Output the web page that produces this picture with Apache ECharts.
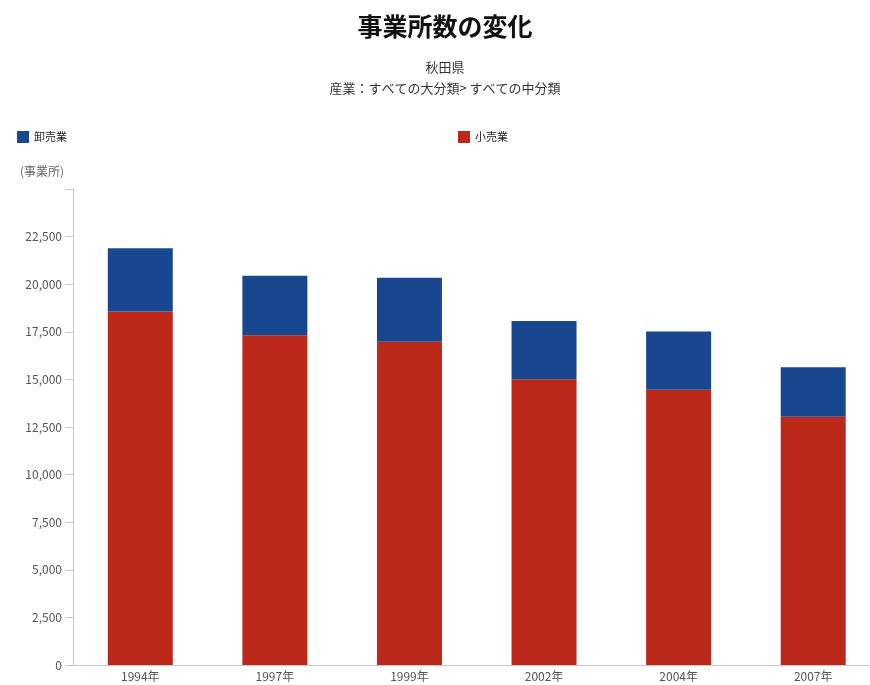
<!DOCTYPE html>
<html>
<head>
<meta charset="utf-8">
<script src="https://cdn.jsdelivr.net/npm/echarts@6/dist/echarts.min.js"></script>
<style>
  html, body { margin: 0; padding: 0; background: #fff; }
  #chart { width: 870px; height: 685px; }
</style>
</head>
<body>
<div id="chart"></div>
<script>
// 秋田県の事業所数（卸売業・小売業）
const years = ['1994年', '1997年', '1999年', '2002年', '2004年', '2007年'];
const retail = [18560, 17320, 16980, 15010, 14460, 13040];   // 小売業
const wholesale = [3330, 3130, 3360, 3060, 3050, 2600];      // 卸売業
const yTicks = { min: 0, max: 25000, step: 2500 };

const FONT = '"Noto Sans CJK JP", "Noto Sans", sans-serif';
const BLUE = '#19478f';
const RED = '#bc281a';

const chart = echarts.init(document.getElementById('chart'), null, { renderer: 'canvas' });

chart.setOption({
  backgroundColor: '#fff',
  animation: false,
  textStyle: { fontFamily: FONT },
  title: [
    {
      text: '事業所数の変化',
      left: 440, top: 9, textAlign: 'center',
      textStyle: { fontFamily: FONT, fontSize: 25, fontWeight: 'bold', color: '#111' }
    },
    {
      text: '秋田県\n産業：すべての大分類> すべての中分類',
      left: 440, top: 52, textAlign: 'center',
      textStyle: { fontFamily: FONT, fontSize: 13, fontWeight: 'normal', color: '#333', lineHeight: 21, align: 'center' }
    }
  ],
  legend: [
    {
      data: ['卸売業'], left: 12, top: 126,
      itemWidth: 12, itemHeight: 12, itemGap: 6,
      textStyle: { fontFamily: FONT, fontSize: 11, color: '#222' },
      icon: 'rect'
    },
    {
      data: ['小売業'], left: 453, top: 126,
      itemWidth: 12, itemHeight: 12, itemGap: 6,
      textStyle: { fontFamily: FONT, fontSize: 11, color: '#222' },
      icon: 'rect'
    }
  ],
  grid: { left: 73, top: 189, width: 807.5, height: 476, containLabel: false, outerBoundsMode: 'none' },
  xAxis: {
    type: 'category',
    data: years,
    boundaryGap: true,
    axisLine: { lineStyle: { color: '#c8c8c8', width: 1 } },
    axisTick: { alignWithLabel: true, length: 5, lineStyle: { color: '#c8c8c8' } },
    axisLabel: { fontFamily: FONT, fontSize: 12, color: '#555', margin: 5 }
  },
  yAxis: {
    type: 'value',
    min: yTicks.min, max: yTicks.max, interval: yTicks.step,
    name: '(事業所)',
    nameLocation: 'end',
    nameGap: 12,
    nameTextStyle: { fontFamily: FONT, fontSize: 12, color: '#666', align: 'right', padding: [0, 9, 0, 0] },
    splitLine: { show: false },
    axisLine: { show: true, lineStyle: { color: '#c8c8c8', width: 1 } },
    axisTick: { show: true, inside: false, length: 8, lineStyle: { color: '#c8c8c8' } },
    axisLabel: {
      fontFamily: FONT, fontSize: 12, color: '#555', margin: 11,
      formatter: v => v >= yTicks.max ? '' : v.toLocaleString('en-US')
    }
  },
  series: [
    {
      name: '小売業', type: 'bar', stack: 'total',
      data: retail, barWidth: 65,
      itemStyle: { color: RED }
    },
    {
      name: '卸売業', type: 'bar', stack: 'total',
      data: wholesale, barWidth: 65,
      itemStyle: { color: BLUE }
    }
  ]
});
</script>
</body>
</html>
